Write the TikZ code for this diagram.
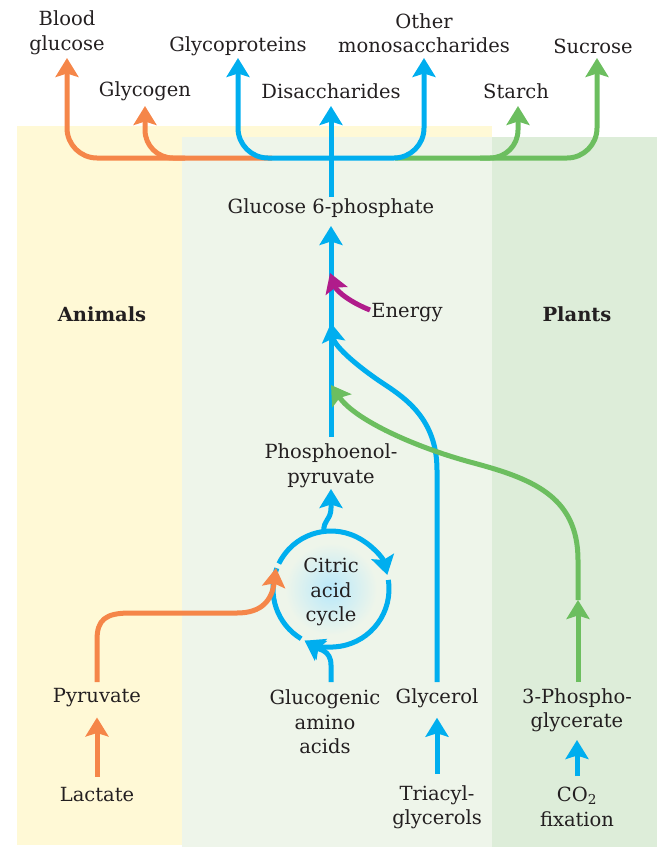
\documentclass[tikz,border=0pt]{standalone}
\usepackage{fontspec}
\setmainfont{DejaVu Serif}
\usetikzlibrary{arrows.meta,calc}
\definecolor{cyel}{HTML}{FFF9D6}
\definecolor{clg}{HTML}{EEF5EA}
\definecolor{cdg}{HTML}{DDEDD9}
\definecolor{corange}{HTML}{F58649}
\definecolor{cblue}{HTML}{00AEEF}
\definecolor{cgreen}{HTML}{6CBE5F}
\definecolor{cmag}{HTML}{B01C8B}
\definecolor{ctext}{HTML}{231F20}
\begin{document}
\begin{tikzpicture}[x=1pt,y=-1pt,
  lbl/.style={text=ctext, align=center, font=\fontsize{19.5}{24.5}\selectfont, inner sep=0pt},
  bold/.style={lbl, font=\fontsize{19.5}{24.5}\selectfont\bfseries},
  tip/.tip={Stealth[length=19pt 0 0,width=23pt 0 0,inset=3.5pt 0]},
  flow/.style={line width=5pt, -tip},
  twoway/.style={line width=5pt, tip-tip},
  plainline/.style={line width=5pt}]
\useasboundingbox (0,0) rectangle (659,847);
% backgrounds
\fill[cyel] (17,126) rectangle (492,845);
\fill[clg] (182,137) rectangle (492,847);
\fill[cdg] (492,137) rectangle (657,847);
\shade[inner color=cblue!28!white, outer color=clg] (331,589) circle (46);

% labels
\node[lbl] (blood) at (67,33) {Blood\\glucose};
\node[lbl] (glycoprot) at (238,46) {Glycoproteins};
\node[lbl] (othermono) at (424,33) {Other\\monosaccharides};
\node[lbl] (sucrose) at (593,46) {Sucrose};
\node[lbl] (glycogen) at (145,91) {Glycogen};
\node[lbl] (disacch) at (331,91) {Disaccharides};
\node[lbl] (starch) at (516,91) {Starch};
\node[lbl] (g6p) at (331,208) {Glucose 6-phosphate};
\node[bold] (animals) at (102,314) {Animals};
\node[bold] (plants) at (577,314) {Plants};
\node[lbl] (energy) at (407,313) {Energy};
\node[lbl] (pep) at (331,466) {Phosphoenol-\\pyruvate};
\node[lbl] (cac) at (331,592) {Citric\\acid\\cycle};
\node[lbl] (pyruvate) at (97,698) {Pyruvate};
\node[lbl] (lactate) at (97,795) {Lactate};
\node[lbl] (amino) at (325,722) {Glucogenic\\amino\\acids};
\node[lbl] (glycerol) at (437,698) {Glycerol};
\node[lbl] (triacyl) at (437,807) {Triacyl-\\glycerols};
\node[lbl] (pga) at (577,710) {3-Phospho-\\glycerate};
\node[lbl] (co2) at (577,807) {CO\textsubscript{2}\\fixation};

% named points
\coordinate (hub) at (331,158);
\coordinate (trunkbot) at (331,197);
\coordinate (trunktop) at (331,106);
\coordinate (bgtip) at (67,58);
\coordinate (gltip) at (145,106);
\coordinate (gptip) at (238,58);
\coordinate (omtip) at (424,58);
\coordinate (sutip) at (597,58);
\coordinate (sttip) at (518,106);
\coordinate (orstart) at (272,158);
\coordinate (glstart) at (185,158);
\coordinate (grstart) at (395,158);
\coordinate (ststart) at (480,158);
\coordinate (midbot) at (331,437);
\coordinate (midtop) at (331,226);
\coordinate (entip) at (330,273);
\coordinate (entail) at (370,310);
\coordinate (gytip) at (331,323);
\coordinate (grtip) at (331,385);
\coordinate (cc) at (331,589);
\coordinate (pyrtip) at (276,568);
\coordinate (amtip) at (304.7,640.7);

% top branches
\draw[flow, corange, rounded corners=30pt] (orstart) -| (bgtip);
\draw[flow, corange, rounded corners=28pt] (glstart) -| (gltip);
\draw[flow, cgreen, rounded corners=30pt] (grstart) -| (sutip);
\draw[flow, cgreen, rounded corners=28pt] (ststart) -| (sttip);
\draw[twoway, cblue, rounded corners=30pt] (gptip) |- (hub) -| (omtip);
\draw[flow, cblue] (trunkbot) -- (trunktop);

% middle
\draw[flow, cblue] (midbot) -- (midtop);
\draw[flow, cmag] (entail) .. controls (352,303) and (337,292) .. (entip);
\draw[flow, cblue] (437,682) -- (437,470) .. controls (437,415) and (400,395) .. (378,380) .. controls (352,362) and (334,345) .. (gytip);
\draw[flow, cgreen] (578,682) -- (578,600);
\draw[flow, cgreen] (578,600) -- (578,560) .. controls (578,495) and (530,478) .. (470,462) .. controls (415,447) and (355,420) .. (grtip);

% citric acid cycle
\draw[flow, cblue] ($(cc)+(206:58)$) arc[start angle=206, end angle=346, radius=58];
\draw[flow, cblue] ($(cc)+(-9:58)$) arc[start angle=-9, end angle=117, radius=58];
\draw[plainline, cblue] ($(cc)+(121:58)$) arc[start angle=121, end angle=201, radius=58];
\draw[flow, cblue] ($(cc)+(263:58)$) .. controls (323,520) and (331,520) .. (331,508) -- (331,489);
\draw[flow, cblue] (331,682) -- (331,665) .. controls (331,650) and (318,649) .. (amtip);
\draw[flow, corange] (97,682) -- (97,640) .. controls (97,620) and (105,613) .. (130,613) -- (237,613) .. controls (262,613) and (272,600) .. (pyrtip);

% bottom inputs
\draw[flow, corange] ($(lactate.north)+(0,-11)$) -- ($(pyruvate.south)+(0,10)$);
\draw[flow, cblue] ($(triacyl.north)+(0,-11)$) -- ($(glycerol.south)+(0,10)$);
\draw[flow, cblue] ($(co2.north)+(0,-11)$) -- ($(pga.south)+(0,8)$);
\end{tikzpicture}
\end{document}
